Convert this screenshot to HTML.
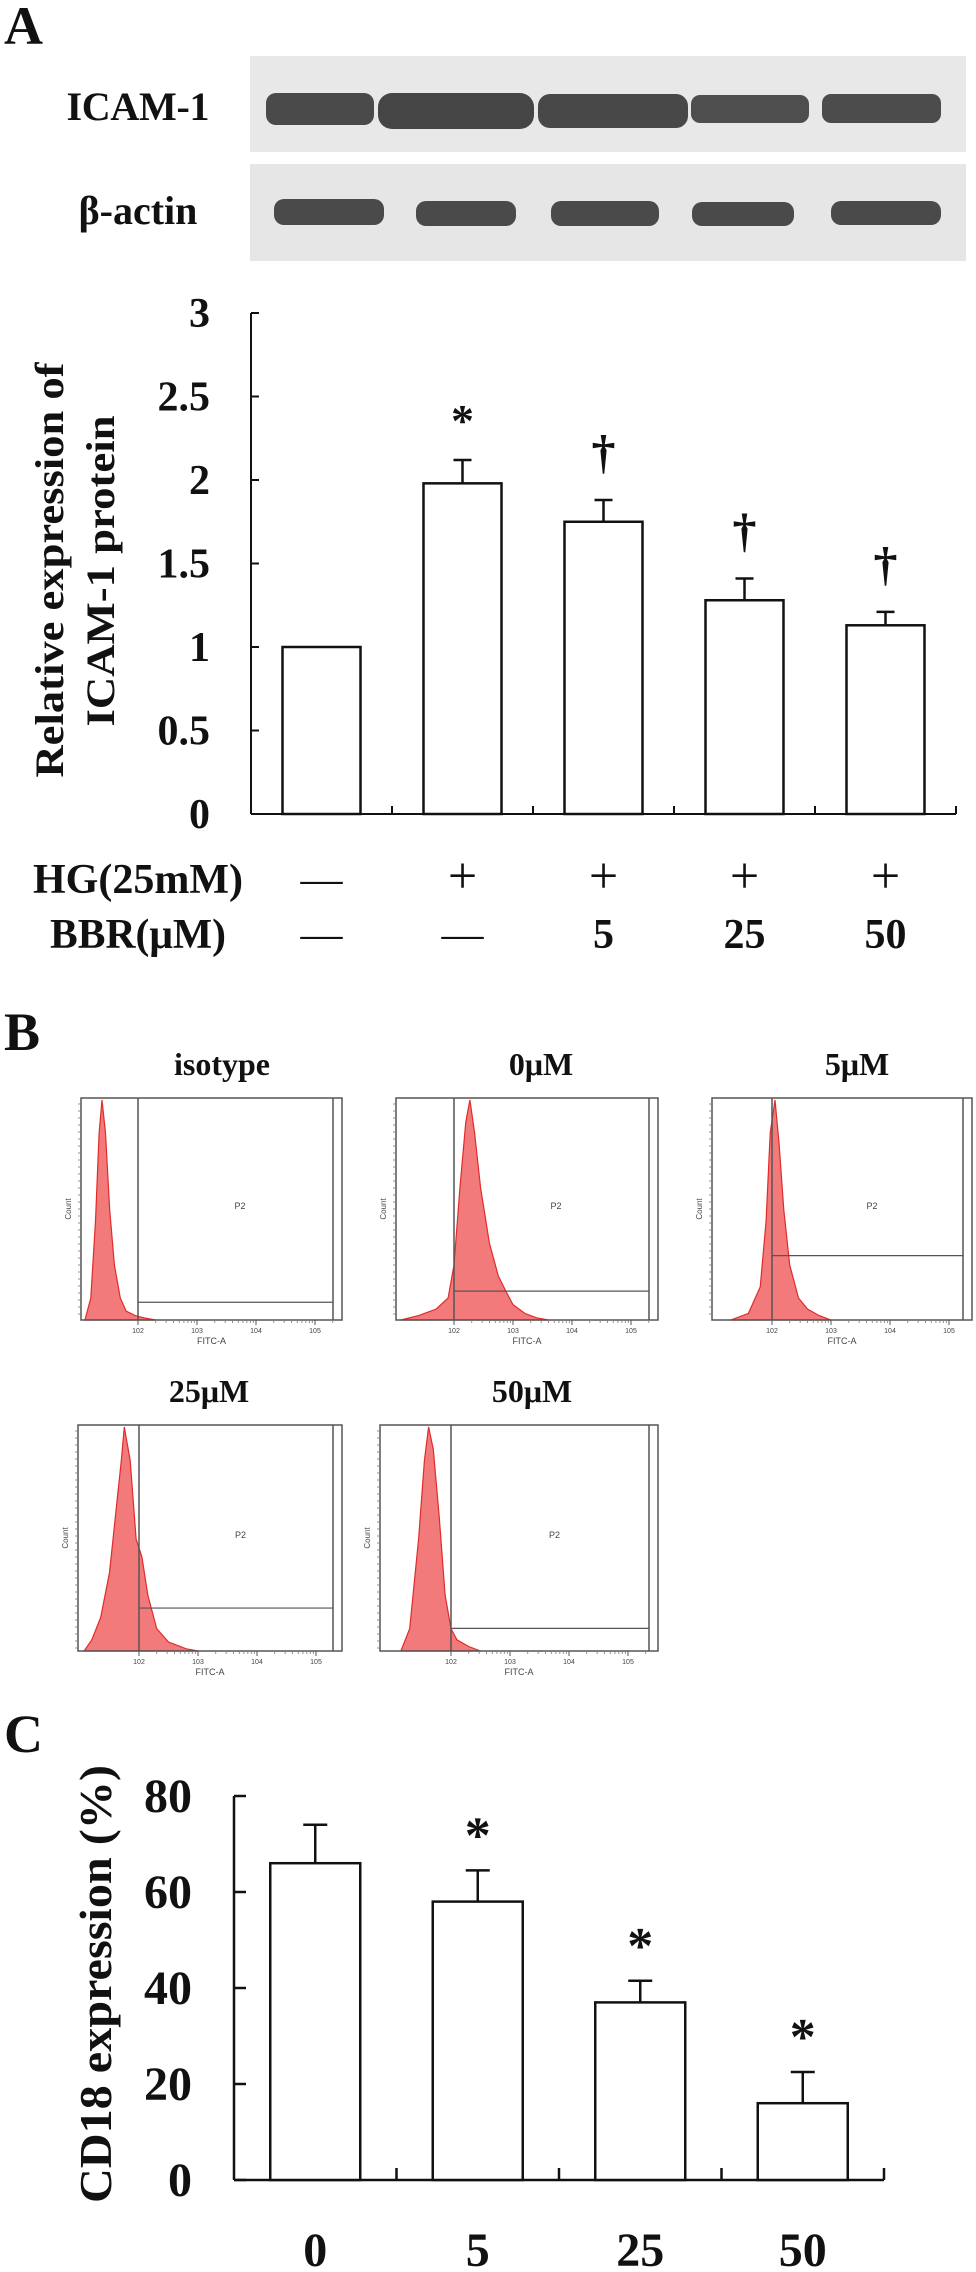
<!DOCTYPE html>
<html><head><meta charset="utf-8"><style>
html,body{margin:0;padding:0;background:#fff;}
svg{display:block;font-family:"Liberation Serif",serif;}
.b{font-weight:bold;fill:#111;}
.s{font-family:"Liberation Sans",sans-serif;fill:#444;}
</style></head><body>
<svg id="fig" width="976" height="2272" viewBox="0 0 976 2272" xmlns="http://www.w3.org/2000/svg">
<text class="b" x="4" y="44" font-size="54">A</text>
<g>
<rect x="250" y="56" width="716" height="96" fill="#e8e8e8"/>
<rect x="250" y="164" width="716" height="97" fill="#e6e6e6"/>
<text class="b" x="138" y="120" font-size="40" text-anchor="middle" textLength="143">ICAM-1</text>
<text class="b" x="138" y="224" font-size="40" text-anchor="middle">β-actin</text>
<rect x="266" y="93" width="108" height="32" rx="10" fill="#4a4a4a"/>
<rect x="378" y="93" width="156" height="36" rx="14" fill="#454545"/>
<rect x="538" y="94" width="150" height="34" rx="12" fill="#484848"/>
<rect x="691" y="95" width="118" height="28" rx="9" fill="#4e4e4e"/>
<rect x="822" y="94" width="119" height="29" rx="9" fill="#4c4c4c"/>
<rect x="274" y="199" width="110" height="26" rx="10" fill="#4a4a4a"/>
<rect x="416" y="201" width="100" height="25" rx="10" fill="#4a4a4a"/>
<rect x="551" y="201" width="108" height="25" rx="10" fill="#4a4a4a"/>
<rect x="692" y="202" width="102" height="24" rx="10" fill="#4a4a4a"/>
<rect x="831" y="201" width="110" height="24" rx="10" fill="#4a4a4a"/>
</g>
<g id="chartA"></g>
<text class="b" x="33" y="893" font-size="42" textLength="210" lengthAdjust="spacingAndGlyphs">HG(25mM)</text>
<text class="b" x="50" y="948" font-size="42" textLength="176" lengthAdjust="spacingAndGlyphs">BBR(μM)</text>
<g id="rows"></g>
<text class="b" x="4" y="1050" font-size="54">B</text>
<g id="flow"></g>
<text class="b" x="4" y="1752" font-size="54">C</text>
<g id="chartC"></g>
</svg>
<script>
// ---- Chart A data ----
const aCategories = ["ctrl","HG","HG+5","HG+25","HG+50"];
const aValues = [1.0, 1.98, 1.75, 1.28, 1.13];
const aErrors = [0, 0.14, 0.13, 0.13, 0.08];
const aMarks = ["", "*", "†", "†", "†"];
const aTicks = [0, 0.5, 1, 1.5, 2, 2.5, 3];
const hgRow = ["—","+","+","+","+"];
const bbrRow = ["—","—","5","25","50"];
// ---- Chart C data ----
const cCategories = ["0","5","25","50"];
const cValues = [66, 58, 37, 16];
const cErrors = [8, 6.5, 4.5, 6.5];
const cMarks = ["", "*", "*", "*"];
const cTicks = [0, 20, 40, 60, 80];
// ---- Flow histogram data (log10 FITC, relative count) ----
const flowTitles = ["isotype","0μM","5μM","25μM","50μM"];
const flowLogs = [
 [1.1,1.2,1.28,1.34,1.39,1.45,1.52,1.6,1.7,1.8,1.95,2.1,2.3],
 [1.1,1.4,1.7,1.9,2.0,2.1,2.2,2.27,2.35,2.45,2.6,2.75,2.9,3.0,3.2,3.4,3.6],
 [1.3,1.6,1.8,1.9,1.97,2.05,2.12,2.2,2.3,2.45,2.6,2.8,3.0],
 [1.07,1.2,1.35,1.5,1.6,1.7,1.75,1.85,1.95,2.05,2.15,2.3,2.5,2.8,3.0],
 [1.15,1.3,1.45,1.55,1.62,1.7,1.8,1.9,2.0,2.1,2.3,2.5]
];
const flowCounts = [
 [0,0.1,0.45,0.85,1.0,0.85,0.5,0.25,0.1,0.04,0.02,0.01,0],
 [0,0.02,0.05,0.1,0.25,0.6,0.9,1.0,0.85,0.6,0.35,0.2,0.12,0.07,0.03,0.01,0],
 [0,0.03,0.15,0.45,0.85,1.0,0.8,0.5,0.25,0.1,0.05,0.02,0],
 [0,0.05,0.15,0.35,0.6,0.85,1.0,0.85,0.5,0.42,0.25,0.1,0.04,0.01,0],
 [0,0.1,0.5,0.85,1.0,0.9,0.6,0.25,0.1,0.05,0.02,0]
];
const flowGateLevel = [0.08, 0.13, 0.29, 0.19, 0.1];

const NS="http://www.w3.org/2000/svg";
function mk(parent,tag,attrs,text){const e=document.createElementNS(NS,tag);for(const k in attrs)e.setAttribute(k,attrs[k]);if(text!==undefined)e.textContent=text;parent.appendChild(e);return e;}

// ---------- Chart A ----------
(function(){
 const g=document.getElementById('chartA');
 const x0=251,x1=956,yTop=313,yBot=814,vmax=3;
 const y=v=>yBot-(v/vmax)*(yBot-yTop);
 const slot=(x1-x0)/aCategories.length;
 const cx=i=>x0+slot*(i+0.5);
 const bw=78;
 let l=mk(g,'line',{x1:x0,y1:yTop,x2:x0,y2:yBot,stroke:'#111','stroke-width':2});
 
 
 l=mk(g,'line',{x1:x0,y1:yBot,x2:x1,y2:yBot,stroke:'#111','stroke-width':2});
 
 
 aTicks.forEach(t=>{
  mk(g,'line',{x1:x0,y1:y(t),x2:x0+8,y2:y(t),stroke:'#111','stroke-width':2});
  const tx=mk(g,'text',{x:210,y:y(t)+14,'font-size':42,'text-anchor':'end',class:'b'},String(t));
  
  
 });
 for(let i=1;i<=aCategories.length;i++){mk(g,'line',{x1:x0+slot*i,y1:yBot,x2:x0+slot*i,y2:yBot-8,stroke:'#111','stroke-width':2});}
 aValues.forEach((v,i)=>{
  const r=mk(g,'rect',{x:cx(i)-bw/2,y:y(v),width:bw,height:yBot-y(v),fill:'#fff',stroke:'#111','stroke-width':2.5});
  
  
  if(aErrors[i]>0){
   mk(g,'line',{x1:cx(i),y1:y(v),x2:cx(i),y2:y(v+aErrors[i]),stroke:'#111','stroke-width':2.5});
   mk(g,'line',{x1:cx(i)-9,y1:y(v+aErrors[i]),x2:cx(i)+9,y2:y(v+aErrors[i]),stroke:'#111','stroke-width':2.5});
  }
  if(aMarks[i]){
   const m=mk(g,'text',{x:cx(i),y:y(v+aErrors[i])-(aMarks[i]==='*'?24:32),'font-size':aMarks[i]==='*'?46:48,'text-anchor':'middle',class:'b'},aMarks[i]);
   
   
  }
 });
 const t1=mk(g,'text',{transform:'translate(63,570) rotate(-90)','font-size':40,'text-anchor':'middle',class:'b',textLength:415,lengthAdjust:'spacingAndGlyphs'},'Relative expression of');
 
 
 const t2=mk(g,'text',{transform:'translate(114,571) rotate(-90)','font-size':40,'text-anchor':'middle',class:'b',textLength:311,lengthAdjust:'spacingAndGlyphs'},'ICAM-1 protein');
 
 
 const rows=document.getElementById('rows');
 aCategories.forEach((c,i)=>{
  [[hgRow,893],[bbrRow,948]].forEach(([arr,yy])=>{
   const s=arr[i];
   const e=mk(rows,'text',{x:cx(i),y:yy,'font-size':s==='+'?52:42,'text-anchor':'middle',class:'b',style:s==='+'||s==='—'?'font-weight:normal':''},s);
   
   
  });
 });
})();

// ---------- Flow histograms ----------
(function(){
 const g=document.getElementById('flow');
 const boxes=[[81,1098,342,1320],[396,1098,658,1320],[712,1098,972,1320],[78,1425,342,1651],[380,1425,658,1651]];
 const gates=[138,454,772,139,451];
 const titleX=[222,541,857,209,532];
 const dec=59;
 boxes.forEach((b,k)=>{
  const [l,t,r,bt]=b;
  const sub=mk(g,'g',{});
  
  
  const tt=mk(sub,'text',{x:titleX[k],y:t-23,'font-size':32,'text-anchor':'middle',class:'b'},flowTitles[k]);
  
  
  const xs=v=>gates[k]+(v-2)*dec;
  const ys=c=>bt-c*(bt-t-2);
  let d='M'+xs(flowLogs[k][0])+','+bt;
  flowLogs[k].forEach((v,i)=>{d+=' L'+xs(v).toFixed(1)+','+ys(flowCounts[k][i]).toFixed(1);});
  d+=' L'+xs(flowLogs[k][flowLogs[k].length-1])+','+bt+' Z';
  const p=mk(sub,'path',{d:d,fill:'#f27a7a',stroke:'#e02b2b','stroke-width':1.2});
  
  
  mk(sub,'rect',{x:l,y:t,width:r-l,height:bt-t,fill:'none',stroke:'#555','stroke-width':1.5});
  mk(sub,'line',{x1:r-9,y1:t,x2:r-9,y2:bt,stroke:'#555','stroke-width':1.5});
  mk(sub,'line',{x1:gates[k],y1:t,x2:gates[k],y2:bt,stroke:'#555','stroke-width':1.5});
  const gy=bt-flowGateLevel[k]*(bt-t);
  mk(sub,'line',{x1:gates[k],y1:gy,x2:r-9,y2:gy,stroke:'#555','stroke-width':1.2});
  mk(sub,'text',{x:(gates[k]+r)/2,y:t+(bt-t)*0.5,'font-size':9,'text-anchor':'middle',class:'s'},'P2');
  mk(sub,'text',{x:(l+r)/2,y:bt+24,'font-size':9,'text-anchor':'middle',class:'s'},'FITC-A');
  mk(sub,'text',{transform:'translate('+(l-10)+','+((t+bt)/2)+') rotate(-90)','font-size':8,'text-anchor':'middle',class:'s'},'Count');
  for(let yy=t+6;yy<bt;yy+=7){mk(sub,'line',{x1:l-3,y1:yy,x2:l,y2:yy,stroke:'#777','stroke-width':0.8});}
  for(let dd=0;dd<4;dd++){
   const bx=gates[k]+dd*dec;
   mk(sub,'text',{x:bx,y:bt+13,'font-size':7,'text-anchor':'middle',class:'s'},'10'+(dd+2));
   for(let m=2;m<10;m++){const mx=bx+Math.log10(m)*dec;if(mx<r-9)mk(sub,'line',{x1:mx,y1:bt,x2:mx,y2:bt+3,stroke:'#777','stroke-width':0.8});}
   mk(sub,'line',{x1:bx,y1:bt,x2:bx,y2:bt+5,stroke:'#555','stroke-width':1});
  }
 });
})();

// ---------- Chart C ----------
(function(){
 const g=document.getElementById('chartC');
 const x0=234,x1=884,yTop=1796,yBot=2180,vmax=80;
 const y=v=>yBot-(v/vmax)*(yBot-yTop);
 const slot=(x1-x0)/cCategories.length;
 const cx=i=>x0+slot*(i+0.5);
 const bw=90;
 let l=mk(g,'line',{x1:x0,y1:yTop,x2:x0,y2:yBot,stroke:'#111','stroke-width':2.5});
 
 
 l=mk(g,'line',{x1:x0,y1:yBot,x2:x1,y2:yBot,stroke:'#111','stroke-width':2.5});
 
 
 cTicks.forEach(t=>{
  mk(g,'line',{x1:x0,y1:y(t),x2:x0+12,y2:y(t),stroke:'#111','stroke-width':2.5});
  const tx=mk(g,'text',{x:192,y:y(t)+16,'font-size':48,'text-anchor':'end',class:'b'},String(t));
  
  
 });
 for(let i=1;i<=cCategories.length;i++){mk(g,'line',{x1:x0+slot*i,y1:yBot,x2:x0+slot*i,y2:yBot-12,stroke:'#111','stroke-width':2.5});}
 cValues.forEach((v,i)=>{
  const r=mk(g,'rect',{x:cx(i)-bw/2,y:y(v),width:bw,height:yBot-y(v),fill:'#fff',stroke:'#111','stroke-width':2.5});
  
  
  mk(g,'line',{x1:cx(i),y1:y(v),x2:cx(i),y2:y(v+cErrors[i]),stroke:'#111','stroke-width':2.5});
  mk(g,'line',{x1:cx(i)-12,y1:y(v+cErrors[i]),x2:cx(i)+12,y2:y(v+cErrors[i]),stroke:'#111','stroke-width':2.5});
  if(cMarks[i]){
   const m=mk(g,'text',{x:cx(i),y:y(v+cErrors[i])-18,'font-size':52,'text-anchor':'middle',class:'b'},cMarks[i]);
   
   
  }
  const xl=mk(g,'text',{x:cx(i),y:2266,'font-size':48,'text-anchor':'middle',class:'b'},cCategories[i]);
  
  
 });
 const tt=mk(g,'text',{transform:'translate(111,1984) rotate(-90)','font-size':46,'text-anchor':'middle',class:'b',textLength:438,lengthAdjust:'spacingAndGlyphs'},'CD18 expression (%)');
 
 
})();
</script>
</body></html>
